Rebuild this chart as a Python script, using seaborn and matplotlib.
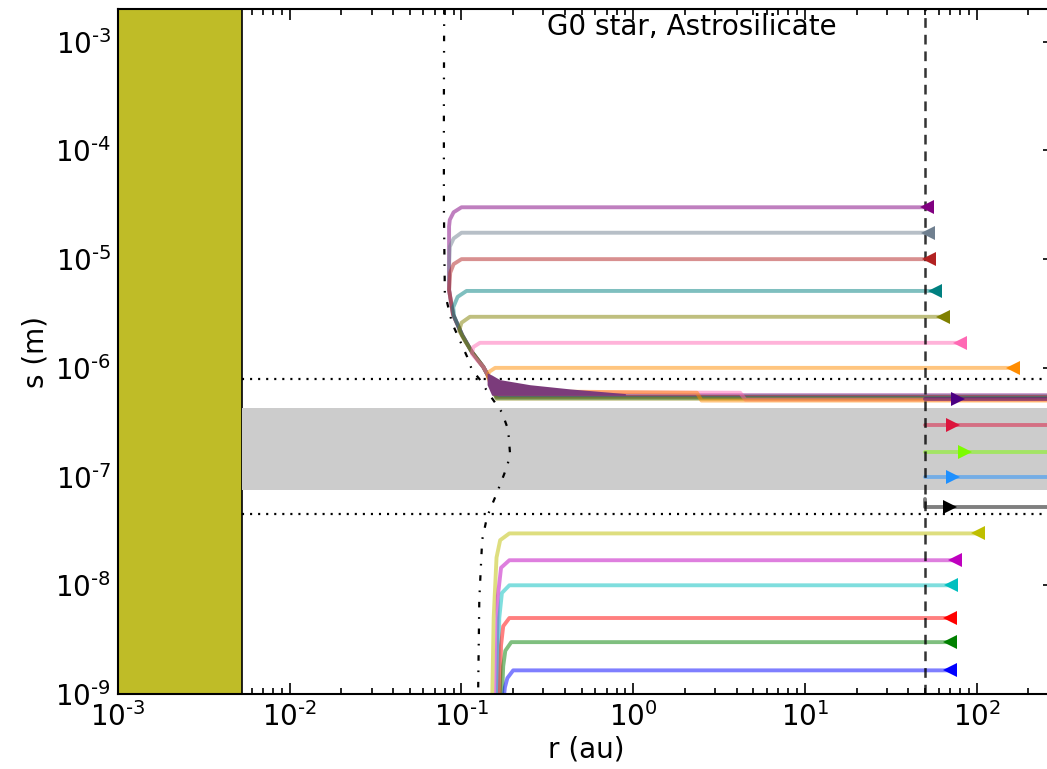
import matplotlib
matplotlib.use('Agg')
import matplotlib.pyplot as plt
import matplotlib.ticker as mticker
import numpy as np
import seaborn as sns

sns.set_style('ticks')
plt.rcParams['font.family'] = ['DejaVu Sans']
plt.rcParams['lines.scale_dashes'] = False
plt.rcParams['axes.unicode_minus'] = False
plt.rcParams['mathtext.default'] = 'regular'
for key in ['text.color', 'axes.labelcolor', 'xtick.color', 'ytick.color', 'axes.edgecolor']:
    plt.rcParams[key] = 'black'

title_text = 'G0 star, Astrosilicate'

# regions
star_edge = 0.0053
band_low, band_high = 7.6e-8, 4.3e-7
dotted_s = [7.9e-7, 4.55e-8]
r_launch = 50.0

# sublimation curve (dash-dot)
subl_r = [0.0793, 0.079, 0.079, 0.080, 0.088, 0.108, 0.115, 0.128, 0.143, 0.172,
          0.187, 0.192, 0.184, 0.172, 0.161, 0.141, 0.132, 0.127, 0.125]
subl_s = [2e-3, 2.9e-4, 3e-5, 4.9e-6, 2.6e-6, 1.26e-6, 9.6e-7, 7.8e-7, 5.9e-7, 3.9e-7,
          2.7e-7, 1.59e-7, 1.23e-7, 9.3e-8, 7.1e-8, 4.27e-8, 2.62e-8, 7.4e-9, 1e-9]

# large grains drifting inward, then sublimating and blown out
in_colors = ['purple', 'slategray', 'firebrick', 'teal', 'olive', 'hotpink', 'darkorange']
in_mark_r = [51.5, 52, 53, 57, 64, 80, 163]
in_s0 = [3e-5, 1.75e-5, 1e-5, 5.1e-6, 2.95e-6, 1.7e-6, 1e-6]
in_paths_r = [
    [51.5, 0.10, 0.09, 0.0855, 0.0847, 0.0847, 0.0893, 0.101, 0.115, 0.134, 0.147, 0.152, 0.16, 1000],
    [52, 0.10, 0.09, 0.0855, 0.0847, 0.0847, 0.0893, 0.101, 0.115, 0.134, 0.147, 0.152, 0.16, 1000],
    [53, 0.10, 0.09, 0.086, 0.0847, 0.0893, 0.101, 0.115, 0.134, 0.147, 0.152, 0.16, 1000],
    [57, 0.107, 0.095, 0.0895, 0.0905, 0.101, 0.115, 0.134, 0.147, 0.152, 0.16, 1000],
    [64, 0.112, 0.10, 0.097, 0.104, 0.115, 0.134, 0.147, 0.152, 0.16, 1000],
    [80, 0.128, 0.117, 0.115, 0.125, 0.134, 0.147, 0.152, 0.2, 4.2, 4.5, 1000],
    [163, 0.157, 0.145, 0.142, 0.147, 0.152, 0.2, 2.35, 2.5, 1000],
]
in_paths_s = [
    [3e-5, 3e-5, 2.7e-5, 2.3e-5, 2.0e-5, 5.2e-6, 3.1e-6, 2.0e-6, 1.4e-6, 1.02e-6, 7.8e-7, 6.3e-7, 5.6e-7, 5.6e-7],
    [1.75e-5, 1.75e-5, 1.55e-5, 1.3e-5, 9e-6, 5.2e-6, 3.1e-6, 2.0e-6, 1.4e-6, 1.02e-6, 7.8e-7, 6.3e-7, 5.5e-7, 5.5e-7],
    [1e-5, 1e-5, 9e-6, 7.5e-6, 5.2e-6, 3.1e-6, 2.0e-6, 1.4e-6, 1.02e-6, 7.8e-7, 6.3e-7, 5.4e-7, 5.4e-7],
    [5.1e-6, 5.1e-6, 4.5e-6, 3.6e-6, 3.0e-6, 2.0e-6, 1.4e-6, 1.02e-6, 7.8e-7, 6.3e-7, 5.3e-7, 5.3e-7],
    [2.95e-6, 2.95e-6, 2.6e-6, 2.2e-6, 1.8e-6, 1.4e-6, 1.02e-6, 7.8e-7, 6.3e-7, 5.2e-7, 5.2e-7],
    [1.7e-6, 1.7e-6, 1.55e-6, 1.35e-6, 1.15e-6, 1.02e-6, 7.8e-7, 6.3e-7, 6.0e-7, 5.9e-7, 5.1e-7, 5.1e-7],
    [1e-6, 1e-6, 9.2e-7, 8.3e-7, 7.3e-7, 6.3e-7, 6.1e-7, 5.9e-7, 5.0e-7, 5.0e-7],
]

# dense overlapping orbits just after sublimation
wedge_r = [0.141, 0.15, 0.167, 0.25, 0.43, 0.9]
wedge_top = [9.0e-7, 8.6e-7, 7.8e-7, 7.0e-7, 6.4e-7, 5.8e-7]
wedge_bot = [7.0e-7, 5.6e-7, 5.6e-7, 5.6e-7, 5.6e-7, 5.6e-7]

# grains blown out from the launch radius
out_colors = ['indigo', 'crimson', 'lawngreen', 'dodgerblue', 'black']
out_mark_r = [78, 73, 85, 73, 70]
out_paths_r = [[50, 1000], [50, 1000], [50, 1000], [50, 1000], [50, 50, 1000]]
out_paths_s = [[5.2e-7, 5.2e-7], [3e-7, 3e-7], [1.7e-7, 1.7e-7], [1e-7, 1e-7],
               [6.2e-8, 5.2e-8, 5.2e-8]]

# small grains drifting inward
small_colors = ['y', 'm', 'c', 'r', 'g', 'b']
small_mark_r = [102, 75, 71, 70, 70, 70]
small_paths_r = [
    [102, 0.19, 0.168, 0.16, 0.154, 0.151],
    [75, 0.19, 0.17, 0.163, 0.159],
    [71, 0.19, 0.172, 0.166, 0.163],
    [70, 0.19, 0.175, 0.17, 0.167],
    [70, 0.195, 0.18, 0.175, 0.172],
    [70, 0.2, 0.185, 0.179, 0.176],
]
small_paths_s = [
    [3e-8, 3e-8, 2.6e-8, 1.8e-8, 5e-9, 9e-10],
    [1.7e-8, 1.7e-8, 1.45e-8, 8e-9, 9e-10],
    [1e-8, 1e-8, 8.5e-9, 5e-9, 9e-10],
    [5e-9, 5e-9, 4.2e-9, 2.8e-9, 9e-10],
    [3e-9, 3e-9, 2.5e-9, 1.8e-9, 9e-10],
    [1.65e-9, 1.65e-9, 1.4e-9, 1.15e-9, 9e-10],
]


def decade_label(v, pos):
    n = int(round(np.log10(v)))
    if n < 0:
        return r'$10^{\text{-}%d}$' % (-n)
    return r'$10^{%d}$' % n


fig = plt.figure(figsize=(10.47, 7.69), dpi=100)
ax = fig.add_axes([118 / 1047, 75 / 769, 936 / 1047, 685 / 769])
ax.set_xscale('log')
ax.set_yscale('log')
ax.set_xlim(1e-3, 282)
ax.set_ylim(1e-9, 2e-3)

# star and blowout band
ax.axvspan(1e-3, star_edge, facecolor='#bfbc27', edgecolor='black', lw=1.2, zorder=1)
ax.fill_between([star_edge, 1000], band_low, band_high, color='#cccccc', lw=0, zorder=1)
for s in dotted_s:
    ax.plot([star_edge, 1000], [s, s], color='black', lw=1.6, ls=(0, (1.5, 4.3)), zorder=2)

for c, pr, ps in zip(in_colors, in_paths_r, in_paths_s):
    sns.lineplot(x=pr, y=ps, sort=False, estimator=None, color=c, alpha=0.5, lw=2.8, ax=ax, zorder=4)
for c, pr, ps in zip(out_colors, out_paths_r, out_paths_s):
    sns.lineplot(x=pr, y=ps, sort=False, estimator=None, color=c, alpha=0.5, lw=2.8, ax=ax, zorder=4)
for c, pr, ps in zip(small_colors, small_paths_r, small_paths_s):
    sns.lineplot(x=pr, y=ps, sort=False, estimator=None, color=c, alpha=0.5, lw=2.8, ax=ax, zorder=4)

ax.fill_between(wedge_r, wedge_bot, wedge_top, color='#7b3b7b', lw=0, zorder=4.5)

ax.axvline(r_launch, color='black', lw=1.8, ls=(0, (7, 5)), alpha=0.8, zorder=5)

for c, r, s in zip(in_colors, in_mark_r, in_s0):
    ax.plot(r, s, marker='<', color=c, ms=10.5, mew=0, zorder=6)
for c, r, ps in zip(out_colors, out_mark_r, out_paths_s):
    ax.plot(r, ps[-1], marker='>', color=c, ms=10.5, mew=0, zorder=6)
for c, r, ps in zip(small_colors, small_mark_r, small_paths_s):
    ax.plot(r, ps[0], marker='<', color=c, ms=10.5, mew=0, zorder=6)

ax.plot(subl_r, subl_s, color='black', lw=1.6, ls=(0, (4, 7, 1.2, 7)), zorder=7)

ax.xaxis.set_major_formatter(mticker.FuncFormatter(decade_label))
ax.yaxis.set_major_formatter(mticker.FuncFormatter(decade_label))

ax.text(0.613, 0.962, title_text, transform=ax.transAxes, ha='center', va='baseline', fontsize=20)
ax.set_xlabel('r (au)', fontsize=20, labelpad=2)
ax.set_ylabel('s (m)', fontsize=20)
ax.tick_params(which='both', direction='in', top=True, right=True, labelsize=20, width=1.2)
ax.tick_params(which='major', length=8)
ax.tick_params(axis='x', which='major', pad=6)
ax.tick_params(axis='y', which='major', pad=5)
ax.tick_params(which='minor', length=4)
for sp in ax.spines.values():
    sp.set_linewidth(1.5)
    sp.set_zorder(8)

fig.savefig('out.png', dpi=100)
